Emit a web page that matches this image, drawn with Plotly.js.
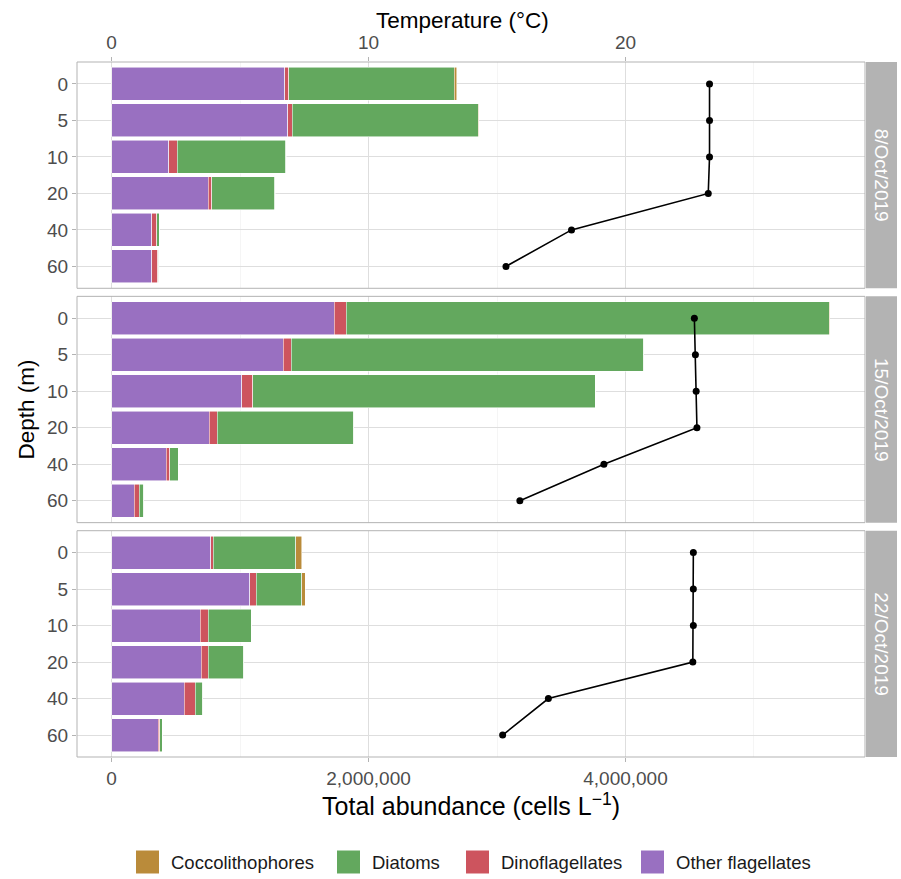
<!DOCTYPE html>
<html>
<head>
<meta charset="utf-8">
<script src="https://cdn.plot.ly/plotly-3.0.1.min.js"></script>
<style>body{margin:0;padding:0;background:#fff;}#chart{width:901px;height:879px;}</style>
</head>
<body>
<div id="chart"></div>
<script>
// ---- data ----
const dates = ["8/Oct/2019", "15/Oct/2019", "22/Oct/2019"];
const depths = ["0", "5", "10", "20", "40", "60"];

// abundances (cells per litre), one row per sampling date, in depth order
const otherFlagellates = [
  [1350000, 1371000, 445000, 753000, 313000, 313000],
  [1734000, 1337000, 1013000, 761000, 426000, 177000],
  [774000, 1075000, 689000, 699000, 567000, 364000]
];
const dinoflagellates = [
  [29000, 36000, 65000, 29000, 39000, 46000],
  [93000, 60000, 86000, 62000, 29000, 39000],
  [16000, 52000, 64000, 54000, 83000, 13000]
];
const diatoms = [
  [1289000, 1448000, 846000, 488000, 20000, 8000],
  [3759000, 2745000, 2664000, 1062000, 65000, 35000],
  [643000, 355000, 333000, 278000, 62000, 18000]
];
const coccolithophores = [
  [18000, 3000, 5000, 5000, 0, 0],
  [3000, 0, 0, 0, 0, 0],
  [49000, 24000, 0, 0, 0, 0]
];
// temperature (°C)
const temperature = [
  [23.27, 23.27, 23.27, 23.22, 17.90, 15.35],
  [22.68, 22.72, 22.75, 22.78, 19.16, 15.89],
  [22.64, 22.64, 22.64, 22.62, 17.00, 15.22]
];

const groupNames = ["Other flagellates", "Dinoflagellates", "Diatoms", "Coccolithophores"];
const groupValues = [otherFlagellates, dinoflagellates, diatoms, coccolithophores];
const groupColors = ["#9970C1", "#CD545E", "#63A85E", "#BA8B3A"];

// ---- build ----
const yIds = ["y", "y2", "y3"];
const traces = [];
groupNames.forEach((g, gi) => {
  dates.forEach((d, pi) => {
    traces.push({
      type: "bar", orientation: "h",
      name: g, legendgroup: g,
      showlegend: false,
      x: groupValues[gi][pi], y: depths,
      xaxis: "x", yaxis: yIds[pi],
      marker: {color: groupColors[gi], line: {color: "rgba(255,255,255,0.9)", width: 0.6}},
      hoverinfo: "x+y+name"
    });
  });
});
dates.forEach((d, pi) => {
  traces.push({
    type: "scatter", mode: "lines+markers",
    x: temperature[pi], y: depths,
    xaxis: "x2", yaxis: yIds[pi],
    line: {color: "#000000", width: 1.6},
    marker: {color: "#000000", size: 7},
    showlegend: false
  });
});

const W = 901, H = 879;
const M = {l: 77, r: 36, t: 62, b: 122};
const plotW = W - M.l - M.r, plotH = H - M.t - M.b;
const px2x = px => (px - M.l) / plotW;
const py2y = py => (H - M.b - py) / plotH;

const font = "Liberation Sans, Arial, sans-serif";
const tickFont = {family: font, size: 19, color: "#4D4D4D"};
const titleFont = {family: font, size: 22.5, color: "#000000"};
const gridC = "#DEDEDE";

const domains = [[0.6744, 1], [0.3372, 0.6628], [0, 0.3256]];

function yAxis(pi, extra) {
  return Object.assign({
    domain: domains[pi],
    anchor: "x",
    type: "category",
    categoryorder: "array", categoryarray: depths,
    range: [5.6, -0.6],
    showgrid: true, gridcolor: gridC, gridwidth: 1,
    zeroline: false, showline: false,
    ticks: "outside", ticklen: 4, tickcolor: "#B3B3B3", tickwidth: 1,
    tickfont: tickFont,
    fixedrange: true
  }, extra || {});
}

const xRange = [-268500, 5863900];
const layout = {
  width: W, height: H,
  margin: M,
  paper_bgcolor: "#FFFFFF", plot_bgcolor: "#FFFFFF",
  barmode: "stack", bargap: 0.1,
  font: {family: font},
  showlegend: false,
  xaxis: {
    domain: [0, 1], anchor: "y3", side: "bottom",
    range: xRange,
    tickvals: [0, 2000000, 4000000], tickformat: ",d",
    showgrid: true, gridcolor: gridC, gridwidth: 1,
    minor: {tickvals: [1000000, 3000000, 5000000], showgrid: true, gridcolor: "#EEEEEE", gridwidth: 0.6, ticks: ""},
    zeroline: false, showline: false,
    ticks: "outside", ticklen: 4, tickcolor: "#B3B3B3", tickwidth: 1,
    tickfont: tickFont,
    title: {text: "Total abundance (cells L<sup>\u22121</sup>)", font: {family: font, size: 25, color: "#000000"}, standoff: 6},
    fixedrange: true
  },
  xaxis2: {
    overlaying: "x", anchor: "y", side: "top",
    range: [xRange[0] / 200000, xRange[1] / 200000],
    tickvals: [0, 10, 20],
    showgrid: false, zeroline: false, showline: false,
    ticks: "outside", ticklen: 4, tickcolor: "#B3B3B3", tickwidth: 1,
    tickfont: tickFont,
    fixedrange: true
  },
  yaxis: yAxis(0),
  yaxis2: yAxis(1, {title: {text: "Depth (m)", font: titleFont, standoff: 6}}),
  yaxis3: yAxis(2),
  shapes: [],
  annotations: [{
    xref: "paper", yref: "paper", x: px2x(462), y: py2y(20), xanchor: "center", yanchor: "middle",
    showarrow: false, text: "Temperature (\u00B0C)", font: titleFont
  }]
};

// facet borders and strips
dates.forEach((d, pi) => {
  const yr = (pi === 0 ? "y" : "y" + (pi + 1)) + " domain";
  layout.shapes.push({
    type: "rect", xref: "paper", yref: yr, x0: 0, x1: 1, y0: 0, y1: 1,
    line: {color: "#B3B3B3", width: 1}, fillcolor: "rgba(0,0,0,0)", layer: "above"
  });
  layout.shapes.push({
    type: "rect", xref: "paper", yref: yr, x0: px2x(866), x1: px2x(897), y0: 0, y1: 1,
    line: {width: 0}, fillcolor: "#B3B3B3", layer: "below"
  });
  layout.annotations.push({
    xref: "paper", yref: yr, x: px2x(881.5), y: 0.5, xanchor: "center", yanchor: "middle",
    text: d, showarrow: false, textangle: 90,
    font: {family: font, size: 19, color: "#FFFFFF"}
  });
});

// legend (ggplot style, large keys), in reverse stacking order
const legendOrder = [3, 2, 1, 0];
const legendKeyLeft = [136, 337, 466, 641];
const keySize = 23, legendCenterY = 862;
legendOrder.forEach((gi, k) => {
  const x0 = legendKeyLeft[k];
  layout.shapes.push({
    type: "rect", xref: "paper", yref: "paper",
    x0: px2x(x0), x1: px2x(x0 + keySize),
    y0: py2y(legendCenterY + keySize / 2), y1: py2y(legendCenterY - keySize / 2),
    line: {width: 0}, fillcolor: groupColors[gi]
  });
  layout.annotations.push({
    xref: "paper", yref: "paper", x: px2x(x0 + keySize + 10), y: py2y(legendCenterY),
    xanchor: "left", yanchor: "middle", showarrow: false,
    text: groupNames[gi], font: {family: font, size: 18.5, color: "#1A1A1A"}
  });
});

Plotly.newPlot("chart", traces, layout, {displayModeBar: false, staticPlot: true});
</script>
</body>
</html>
